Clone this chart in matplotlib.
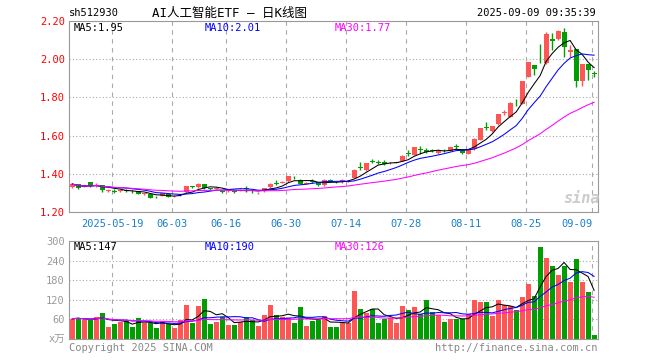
import numpy as np
import pandas as pd
import matplotlib
matplotlib.use('Agg')
import matplotlib.pyplot as plt

plt.rcParams['font.family'] = ['DejaVu Sans Mono', 'Noto Sans CJK SC']

# daily bars, 2025-05-08 .. 2025-09-09
opens = [1.330, 1.344, 1.333, 1.355, 1.345, 1.342, 1.312, 1.309, 1.312, 1.313,
         1.310, 1.309, 1.294, 1.292, 1.278, 1.286, 1.295, 1.282, 1.288, 1.304,
         1.332, 1.330, 1.344, 1.324, 1.323, 1.310, 1.309, 1.309, 1.312, 1.324,
         1.310, 1.297, 1.310, 1.329, 1.350, 1.354, 1.361, 1.384, 1.369, 1.348,
         1.360, 1.355, 1.339, 1.369, 1.357, 1.356, 1.360, 1.380, 1.434, 1.420,
         1.466, 1.462, 1.463, 1.455, 1.458, 1.468, 1.507, 1.500, 1.526, 1.524,
         1.524, 1.508, 1.521, 1.520, 1.544, 1.524, 1.506, 1.529, 1.578, 1.645,
         1.623, 1.660, 1.718, 1.700, 1.768, 1.766, 1.909, 1.970, 1.990, 1.979,
         2.107, 2.108, 2.143, 2.040, 2.052, 1.886, 1.976, 1.930]
highs = [1.350, 1.345, 1.340, 1.357, 1.353, 1.343, 1.318, 1.318, 1.318, 1.320,
         1.315, 1.311, 1.302, 1.293, 1.284, 1.302, 1.297, 1.290, 1.296, 1.336,
         1.338, 1.350, 1.346, 1.328, 1.330, 1.312, 1.316, 1.314, 1.318, 1.334,
         1.316, 1.303, 1.328, 1.350, 1.370, 1.360, 1.388, 1.390, 1.371, 1.358,
         1.375, 1.357, 1.372, 1.371, 1.362, 1.374, 1.366, 1.424, 1.460, 1.456,
         1.480, 1.472, 1.472, 1.462, 1.464, 1.498, 1.522, 1.540, 1.545, 1.535,
         1.530, 1.527, 1.530, 1.540, 1.556, 1.528, 1.532, 1.585, 1.642, 1.672,
         1.652, 1.715, 1.733, 1.775, 1.790, 1.888, 1.986, 1.970, 2.080, 2.140,
         2.137, 2.152, 2.163, 2.072, 2.052, 1.976, 1.976, 1.936]
lows = [1.325, 1.318, 1.330, 1.333, 1.332, 1.304, 1.305, 1.302, 1.306, 1.306,
        1.302, 1.293, 1.290, 1.272, 1.272, 1.283, 1.279, 1.276, 1.285, 1.302,
        1.325, 1.328, 1.322, 1.316, 1.318, 1.300, 1.303, 1.300, 1.308, 1.303,
        1.302, 1.292, 1.307, 1.327, 1.343, 1.350, 1.359, 1.375, 1.344, 1.344,
        1.352, 1.338, 1.336, 1.355, 1.350, 1.354, 1.356, 1.378, 1.422, 1.417,
        1.455, 1.452, 1.446, 1.450, 1.455, 1.466, 1.492, 1.497, 1.505, 1.508,
        1.515, 1.506, 1.514, 1.518, 1.532, 1.505, 1.504, 1.527, 1.575, 1.630,
        1.620, 1.655, 1.706, 1.696, 1.753, 1.763, 1.905, 1.918, 1.980, 1.975,
        2.046, 2.100, 2.011, 2.010, 1.855, 1.860, 1.893, 1.908]
closes = [1.347, 1.327, 1.336, 1.335, 1.348, 1.316, 1.314, 1.307, 1.314, 1.311,
          1.308, 1.295, 1.297, 1.274, 1.277, 1.300, 1.281, 1.284, 1.292, 1.334,
          1.330, 1.348, 1.325, 1.322, 1.326, 1.304, 1.312, 1.307, 1.315, 1.321,
          1.308, 1.300, 1.327, 1.348, 1.347, 1.357, 1.386, 1.381, 1.347, 1.352,
          1.357, 1.341, 1.370, 1.357, 1.355, 1.368, 1.363, 1.421, 1.431, 1.454,
          1.463, 1.459, 1.450, 1.458, 1.461, 1.495, 1.505, 1.538, 1.524, 1.512,
          1.518, 1.526, 1.517, 1.538, 1.542, 1.508, 1.530, 1.582, 1.639, 1.642,
          1.649, 1.712, 1.722, 1.771, 1.764, 1.886, 1.984, 1.949, 1.988, 2.133,
          2.093, 2.150, 2.066, 2.049, 1.888, 1.976, 1.944, 1.923]
volumes = [62, 65, 58, 58, 66, 79, 37, 46, 52, 55,
           37, 65, 50, 48, 34, 56, 46, 34, 58, 104,
           50, 101, 121, 46, 53, 66, 43, 43, 53, 67,
           58, 40, 73, 104, 73, 66, 64, 50, 97, 40,
           55, 58, 70, 37, 38, 50, 50, 148, 91, 79,
           91, 50, 61, 63, 50, 101, 88, 98, 76, 118,
           83, 73, 53, 61, 61, 60, 76, 119, 113, 113,
           71, 119, 103, 101, 88, 128, 169, 131, 281, 248,
           223, 197, 223, 173, 244, 173, 143, 11]

date_labels = ['2025-05-19', '06-03', '06-16', '06-30', '07-14',
               '07-28', '08-11', '08-25', '09-09']
date_idx = [7, 17, 26, 36, 46, 56, 66, 76, 87]

RED = '#ff5555'
GREEN = '#009e00'
GRID = '#aaaaaa'
W, H = 660, 360


def box(l, t, r, b):
    return [l / W, 1 - b / H, (r - l) / W, (b - t) / H]


o = np.array(opens)
c = np.array(closes)
x = np.arange(len(c))
cols = [RED if cc >= oo else GREEN for oo, cc in zip(o, c)]

fig = plt.figure(figsize=(6.6, 3.6), dpi=100)
ax = fig.add_axes(box(69, 21, 598, 212))
axv = fig.add_axes(box(69, 241, 598, 339))

# candles
ax.vlines(x, lows, highs, colors=cols, lw=1)
body = np.maximum(np.abs(c - o), 0.004)
ax.bar(x, body, bottom=np.minimum(o, c), width=0.8, color=cols, linewidth=0)

cs = pd.Series(c)
ax.plot(x, cs.rolling(5, min_periods=1).mean(), color='black', lw=0.75)
ax.plot(x, cs.rolling(10, min_periods=1).mean(), color='blue', lw=0.75)
ax.plot(x, cs.rolling(30, min_periods=1).mean(), color='#ff00ff', lw=0.75)

# volume
axv.bar(x, volumes, width=0.8, color=cols, linewidth=0)
vs = pd.Series(volumes, dtype=float)
axv.plot(x, vs.rolling(5, min_periods=1).mean(), color='black', lw=0.75)
axv.plot(x, vs.rolling(10, min_periods=1).mean(), color='blue', lw=0.75)
axv.plot(x, vs.rolling(30, min_periods=1).mean(), color='#ff00ff', lw=0.75)

for a in (ax, axv):
    a.set_xlim(-0.55, 87.65)
    for d in date_idx:
        a.axvline(d - 0.3, color=GRID, ls=(0, (4, 4)), lw=0.8, zorder=0)
    for s in a.spines.values():
        s.set_color('#999999')
    a.tick_params(length=0, pad=3, labelsize=7.5)

ax.set_ylim(1.2, 2.2)
ax.set_yticks([1.2, 1.4, 1.6, 1.8, 2.0, 2.2])
ax.set_yticklabels(['%.2f' % v for v in [1.2, 1.4, 1.6, 1.8, 2.0, 2.2]], color='red')
for yv in [1.4, 1.6, 1.8, 2.0]:
    ax.axhline(yv, color=GRID, ls=(0, (1, 2)), lw=0.8, zorder=0)
ax.set_xticks([d - 0.3 for d in date_idx])
ax.set_xticklabels(date_labels, color='#1a80c8')
ax.tick_params(axis='x', pad=5)
ax.get_xticklabels()[-1].set_ha('right')

axv.set_ylim(0, 300)
axv.set_yticks([0, 60, 120, 180, 240, 300])
axv.set_yticklabels(['x万', '60', '120', '180', '240', '300'], color='#999999')
for yv in [60, 120, 180, 240]:
    axv.axhline(yv, color=GRID, ls=(0, (1, 2)), lw=0.8, zorder=0)
axv.set_xticks([])

# header and labels
fs = 7.5
fig.text(69 / W, 1 - 13 / H, 'sh512930', va='center', size=fs)
fig.text(229 / W, 1 - 13 / H, 'AI人工智能ETF — 日K线图', va='center', ha='center', size=9)
fig.text(596 / W, 1 - 13 / H, '2025-09-09 09:35:39', va='center', ha='right', size=fs)

fig.text(74 / W, 1 - 28 / H, 'MA5:1.95', va='center', size=fs, color='black')
fig.text(205 / W, 1 - 28 / H, 'MA10:2.01', va='center', size=fs, color='blue')
fig.text(335 / W, 1 - 28 / H, 'MA30:1.77', va='center', size=fs, color='#ff00ff')

fig.text(74 / W, 1 - 247 / H, 'MA5:147', va='center', size=fs, color='black')
fig.text(205 / W, 1 - 247 / H, 'MA10:190', va='center', size=fs, color='blue')
fig.text(335 / W, 1 - 247 / H, 'MA30:126', va='center', size=fs, color='#ff00ff')

fig.text(69 / W, 1 - 348 / H, 'Copyright 2025 SINA.COM', va='center', size=fs, color='#888888')
fig.text(598 / W, 1 - 348 / H, 'http://finance.sina.com.cn', va='center', ha='right',
         size=fs, color='#888888')

fig.text(582 / W, 1 - 198 / H, 'sina', va='center', ha='center', size=11,
         color='#cccccc', style='italic', weight='bold')

fig.savefig('out.png', dpi=100)
